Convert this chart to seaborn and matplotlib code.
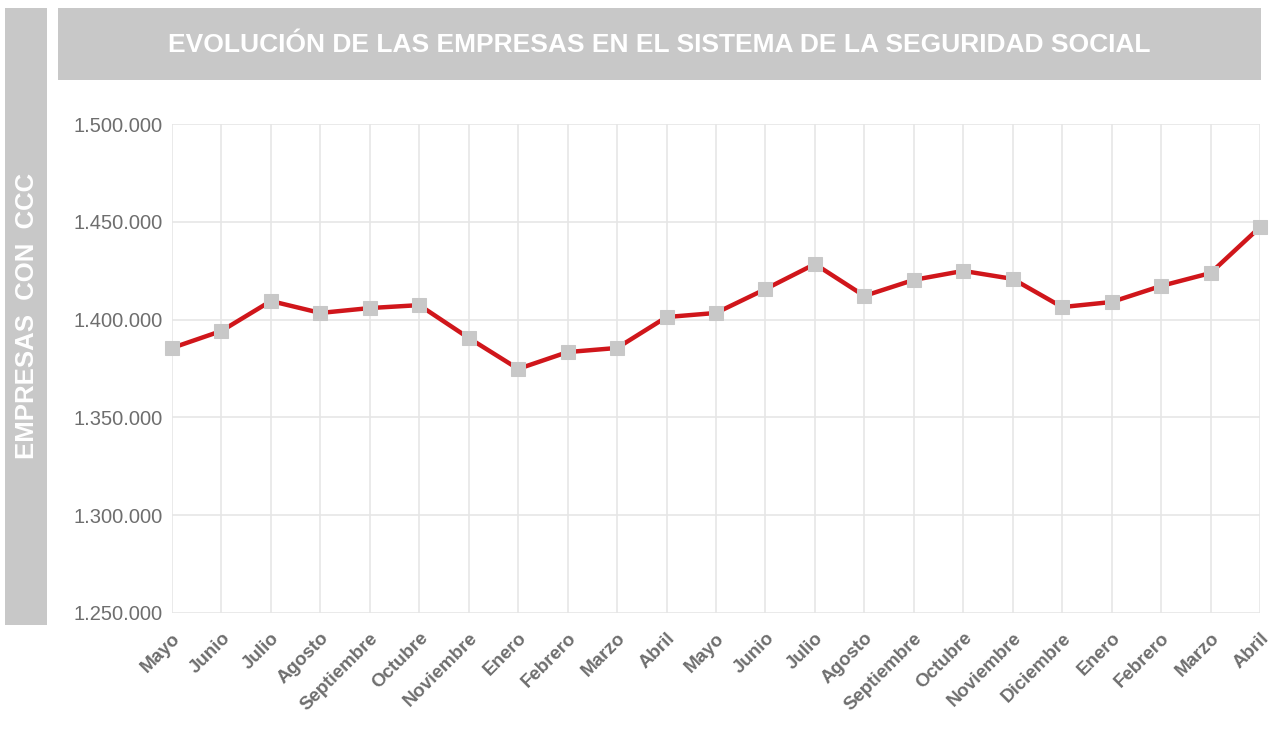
import pandas as pd
import matplotlib.pyplot as plt
import seaborn as sns
from matplotlib.patches import Rectangle

# Data
months = ['Mayo', 'Junio', 'Julio', 'Agosto', 'Septiembre', 'Octubre', 'Noviembre',
          'Enero', 'Febrero', 'Marzo', 'Abril', 'Mayo', 'Junio', 'Julio', 'Agosto',
          'Septiembre', 'Octubre', 'Noviembre', 'Diciembre', 'Enero', 'Febrero',
          'Marzo', 'Abril']
empresas = [1385500, 1394200, 1409500, 1403400, 1405900, 1407400, 1390600,
            1374800, 1383400, 1385500, 1401300, 1403400, 1415600, 1428400,
            1412100, 1420300, 1424900, 1420800, 1406400, 1409000, 1417200,
            1423800, 1447300]
y_ticks = [1250000, 1300000, 1350000, 1400000, 1450000, 1500000]

data = pd.DataFrame({'idx': range(len(months)), 'empresas': empresas})

sns.set_theme(style='white')
plt.rcParams['font.family'] = ['Liberation Sans', 'DejaVu Sans']

fig = plt.figure(figsize=(12.79, 7.29), dpi=100)
ax = fig.add_axes([172 / 1279, 1 - 613 / 729, (1260 - 172) / 1279, (613 - 124) / 729])

# grey header boxes
W, H = 1279, 729
fig.patches.append(Rectangle((5 / W, 1 - 625 / H), 42 / W, 617 / H, transform=fig.transFigure,
                             facecolor='#c8c8c8', edgecolor='none', zorder=0))
fig.patches.append(Rectangle((58 / W, 1 - 80 / H), 1203 / W, 72 / H, transform=fig.transFigure,
                             facecolor='#c8c8c8', edgecolor='none', zorder=0))
fig.text(659 / W, 1 - 45 / H, 'EVOLUCIÓN DE LAS EMPRESAS EN EL SISTEMA DE LA SEGURIDAD SOCIAL',
         ha='center', va='center', color='white', fontsize=19, fontweight='bold')
fig.text(27 / W, 1 - 316 / H, 'EMPRESAS  CON  CCC', rotation=90, ha='center', va='center',
         color='white', fontsize=18.5, fontweight='bold')

line = sns.lineplot(data=data, x='idx', y='empresas', ax=ax, color='#d0161b', linewidth=3.2,
                    marker='s', markersize=10, markerfacecolor='#c8c8c8',
                    markeredgecolor='#c8c8c8', zorder=3)
for l in ax.lines:
    l.set_clip_on(False)

ax.set_xlim(0, len(months) - 1)
ax.set_ylim(y_ticks[0], y_ticks[-1])
ax.set_yticks(y_ticks)
ax.set_yticklabels([f'{v:,}'.replace(',', '.') for v in y_ticks], color='#6e6e6e', fontsize=14.5)
ax.set_xticks(range(len(months)))
ax.set_xticklabels(months, rotation=45, ha='right', rotation_mode='anchor',
                   color='#6e6e6e', fontsize=13.5, fontweight='bold')
ax.tick_params(axis='y', length=0, pad=7)
ax.tick_params(axis='x', length=0, pad=12)
ax.grid(True, color='#e6e6e6', linewidth=1.2)
ax.set_axisbelow(True)
for s in ax.spines.values():
    s.set_visible(False)
ax.set_xlabel('')
ax.set_ylabel('')

plt.savefig('out.png', dpi=100)
